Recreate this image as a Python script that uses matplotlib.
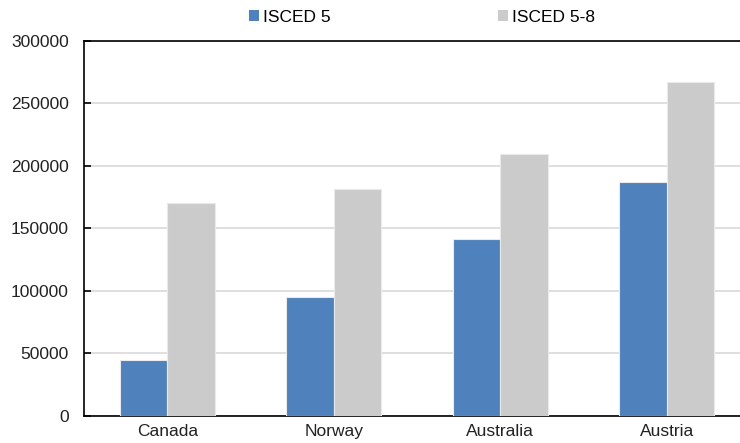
import numpy as np
import matplotlib.pyplot as plt
from matplotlib.patches import Patch

plt.rcParams['font.family'] = ['Liberation Sans', 'DejaVu Sans']

countries = ["Canada", "Norway", "Australia", "Austria"]
isced5 = [44600, 94800, 141400, 187300]
isced5_8 = [170000, 181200, 209700, 266800]
series_names = ["ISCED 5", "ISCED 5-8"]
yticks = [0, 50000, 100000, 150000, 200000, 250000, 300000]

blue = "#4F81BD"
grey = "#CBCBCB"

fig = plt.figure(figsize=(7.4, 4.43), dpi=100)
# plot area runs a little past the right edge of the figure
ax = fig.add_axes([0.1135, 0.0614, 0.9, 0.8465])

x = np.arange(len(countries))
w = 0.285
ax.bar(x - w / 2, isced5, w, color=blue, edgecolor="#EAEAEA", linewidth=0.8, zorder=3)
ax.bar(x + w / 2, isced5_8, w, color=grey, edgecolor="#EAEAEA", linewidth=0.8, zorder=3)

ax.set_xlim(-0.5, len(countries) - 0.5)
ax.set_ylim(0, 300000)
ax.set_yticks(yticks)
ax.set_yticklabels([str(v) for v in yticks])
ax.set_xticks(x)
ax.set_xticklabels(countries)

ax.grid(axis="y", color="#D9D9D9", linewidth=1.2, zorder=0)
ax.set_axisbelow(True)
for s in ax.spines.values():
    s.set_color("black")
    s.set_linewidth(1.2)

ax.tick_params(axis="y", direction="in", length=5, width=1.2, pad=11,
               labelsize=12.5, colors="black")
ax.tick_params(axis="x", length=0, pad=6, labelsize=12.5)
for lab in ax.get_yticklabels() + ax.get_xticklabels():
    lab.set_color("#222222")

handles = [Patch(facecolor=blue), Patch(facecolor=grey)]
fig.legend(handles, series_names, loc="center", bbox_to_anchor=(422 / 740, 1 - 17 / 443),
           ncol=2, frameon=False, fontsize=12.5, handlelength=0.6, handleheight=0.6,
           handletextpad=0.25, columnspacing=9.6)

fig.savefig("out.png", dpi=100)
